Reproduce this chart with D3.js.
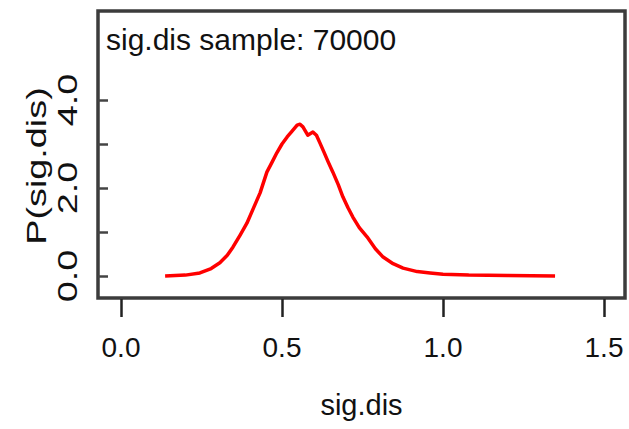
<!DOCTYPE html>
<html>
<head>
<meta charset="utf-8">
<script src="https://cdn.jsdelivr.net/npm/d3@7"></script>
<style>
  body { margin: 0; background: #fff; }
  text { font-family: "Liberation Sans", Arial, sans-serif; fill: #111; }
</style>
</head>
<body>
<div id="canvas"></div>
<script>
// density values
var sigX = [0.137, 0.20, 0.245, 0.28, 0.307, 0.33, 0.348, 0.37, 0.391, 0.41, 0.432, 0.453, 0.47, 0.484, 0.50, 0.516, 0.53, 0.547, 0.556, 0.565, 0.58, 0.596, 0.607, 0.618, 0.63, 0.643, 0.658, 0.675, 0.689, 0.705, 0.72, 0.74, 0.764, 0.79, 0.814, 0.845, 0.876, 0.92, 0.96, 1.0, 1.08, 1.2, 1.348];
var density = [0, 0.02, 0.07, 0.17, 0.3, 0.47, 0.66, 0.93, 1.2, 1.52, 1.89, 2.36, 2.6, 2.8, 3.0, 3.16, 3.28, 3.43, 3.45, 3.39, 3.2, 3.27, 3.2, 3.02, 2.82, 2.6, 2.36, 2.07, 1.8, 1.55, 1.34, 1.1, 0.89, 0.62, 0.43, 0.28, 0.18, 0.1, 0.07, 0.04, 0.02, 0.01, 0];
var xTicks = [0, 0.5, 1.0, 1.5];
var yTicks = [0, 1, 2, 3, 4];
var yLabelTicks = [0, 2, 4];
var title = 'sig.dis sample: 70000';

var W = 629, H = 429;
var box = {l:98, r:625, t:11, b:298};

var svg = d3.select('#canvas').append('svg')
    .attr('width', W)
    .attr('height', H);

var x = d3.scaleLinear().domain([0, 1.5]).range([121, 604]);
var y = d3.scaleLinear().domain([0, 4]).range([276, 100]);

// plot box
svg.append('rect')
    .attr('x', box.l).attr('y', box.t)
    .attr('width', box.r - box.l).attr('height', box.b - box.t)
    .attr('fill', 'none')
    .attr('stroke', '#3c3c3c')
    .attr('stroke-width', 3.5);

// x axis ticks (below box)
var axisX = d3.axisBottom(x).tickValues(xTicks).tickSize(18).tickFormat('');
var gx = svg.append('g')
    .attr('transform', 'translate(0,' + (box.b + 1) + ')')
    .call(axisX);
gx.select('.domain').remove();
gx.selectAll('line').attr('stroke', '#222').attr('stroke-width', 2.5);

svg.selectAll('.xlab')
    .data(xTicks)
    .enter().append('text')
    .attr('class', 'xlab')
    .attr('x', function(d){ return x(d); })
    .attr('y', 357)
    .attr('text-anchor', 'middle')
    .style('font-size', '28px')
    .text(function(d){ return d3.format('.1f')(d); });

// y axis ticks (pointing into the box)
var axisY = d3.axisRight(y).tickValues(yTicks).tickSize(10).tickFormat('');
var gy = svg.append('g')
    .attr('transform', 'translate(' + box.l + ',0)')
    .call(axisY);
gy.select('.domain').remove();
gy.selectAll('line').attr('stroke', '#444').attr('stroke-width', 2.5);

svg.selectAll('.ylab')
    .data(yLabelTicks)
    .enter().append('text')
    .attr('class', 'ylab')
    .attr('transform', function(d){ return 'translate(77,' + y(d) + ') scale(1,1.35) rotate(-90)'; })
    .attr('text-anchor', 'middle')
    .style('font-size', '28px')
    .text(function(d){ return d3.format('.1f')(d); });

// density curve
var line = d3.line()
    .x(function(d){ return x(d[0]); })
    .y(function(d){ return y(d[1]); });

svg.append('path')
    .datum(d3.zip(sigX, density))
    .attr('d', line)
    .attr('fill', 'none')
    .attr('stroke', '#ff0000')
    .attr('stroke-width', 3.5)
    .attr('stroke-linejoin', 'round');

// title and axis labels
svg.append('text')
    .attr('x', 106).attr('y', 50)
    .style('font-size', '30px')
    .text(title);

svg.append('text')
    .attr('x', (box.l + box.r) / 2).attr('y', 415)
    .attr('text-anchor', 'middle')
    .style('font-size', '29px')
    .text('sig.dis');

svg.append('text')
    .attr('transform', 'translate(46,166) scale(1,1.35) rotate(-90)')
    .attr('text-anchor', 'middle')
    .style('font-size', '28px')
    .text('P(sig.dis)');
</script>
</body>
</html>
